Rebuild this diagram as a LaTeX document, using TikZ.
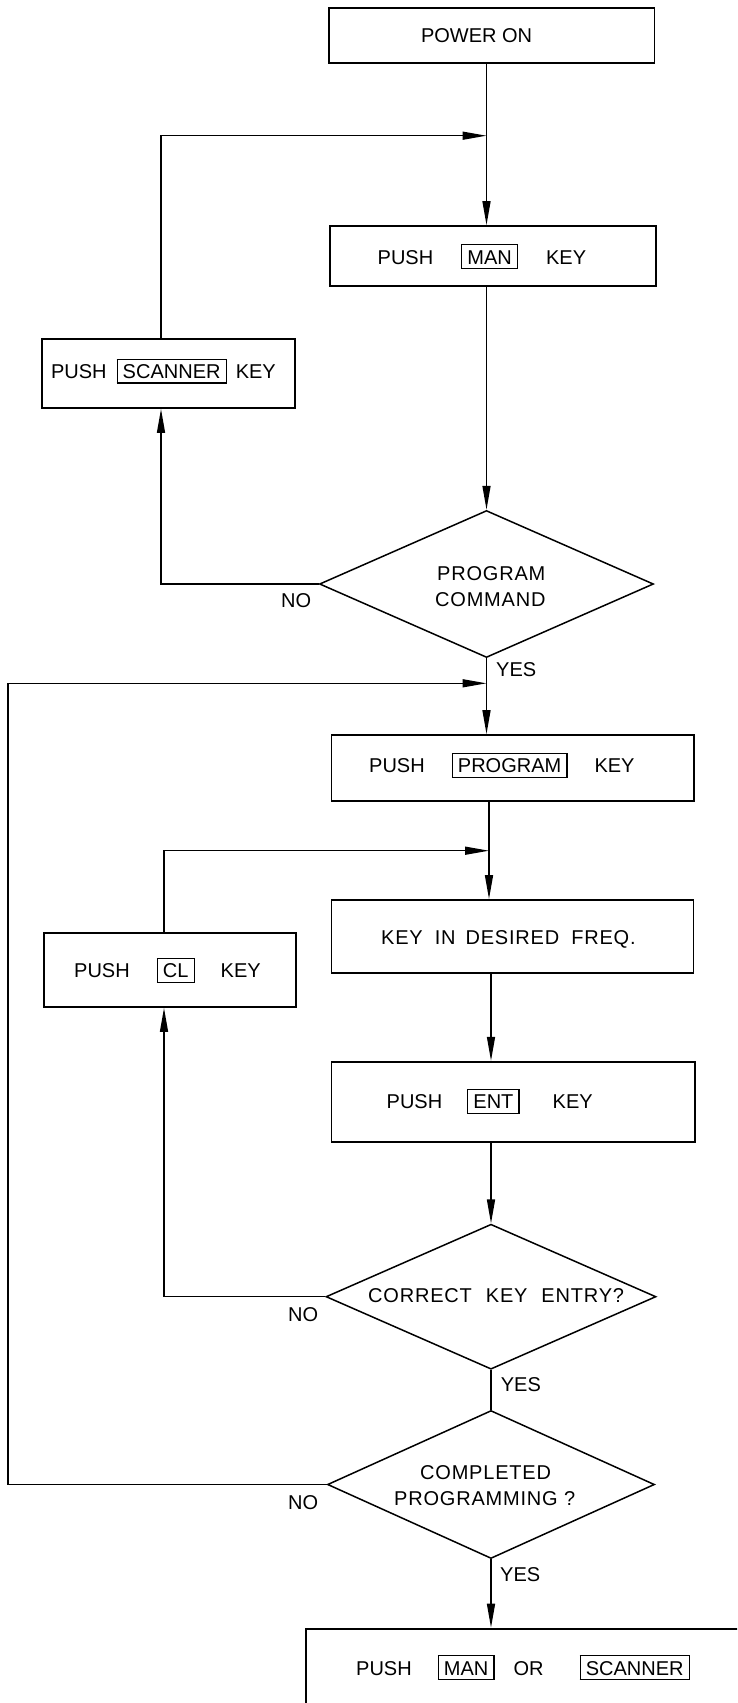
\documentclass[tikz,border=0pt]{standalone}
\usepackage{fontspec}
\setmainfont{Liberation Sans}
\newfontfamily\widefont{Liberation Sans}[LetterSpace=4]
\usetikzlibrary{shapes.geometric,arrows.meta}

% framed key legend inside the step texts
\newcommand{\kbox}[1]{{\setlength{\fboxsep}{0pt}\setlength{\fboxrule}{1.2pt}%
  \fbox{\rule[-3.8pt]{0pt}{22.6pt}\hspace{5pt}#1\hspace{5pt}}}}

\tikzset{
  box/.style={draw, line width=1.8pt, rectangle, inner sep=0pt},
  dia/.style={draw, line width=1.5pt, diamond, inner sep=0pt},
  txt/.style={anchor=base west, inner sep=0pt, font=\fontsize{20}{24}\selectfont},
  arr/.style={line width=1.5pt, -{Triangle[length=24pt,width=8pt]}},
  ln/.style={line width=1.5pt},
}

\begin{document}
\begin{tikzpicture}[x=1pt,y=-1pt]
\path[use as bounding box] (0,0) rectangle (737,1703);
\clip (0,0) rectangle (737,1703);

% guide columns for the connectors
\coordinate (s1) at (486.5,0);
\coordinate (s2) at (489,0);
\coordinate (s3) at (491,0);
\coordinate (xs) at (161,0);
\coordinate (xc) at (164,0);
\coordinate (xl) at (8,0);
\coordinate (m1) at (486.5,135.7);
\coordinate (m2) at (486.5,683.3);
\coordinate (m3) at (489,850.7);

% steps
\node[box, minimum width=325.5, minimum height=54.4] (pwr) at (491.75,35.5) {};
\node[box, minimum width=326, minimum height=60] (man) at (493,256) {};
\node[box, minimum width=252.5, minimum height=69] (scan) at (168.5,373.5) {};
\node[dia, minimum width=334, minimum height=147] (d1) at (486.5,584) {};
\node[box, minimum width=362.5, minimum height=66] (prog) at (512.75,768) {};
\node[box, minimum width=362, minimum height=73] (keyin) at (512.5,936.5) {};
\node[box, minimum width=252.3, minimum height=74.3] (cl) at (169.85,969.85) {};
\node[box, minimum width=363.5, minimum height=80] (ent) at (513.25,1101.7) {};
\node[dia, minimum width=330, minimum height=145] (d2) at (491,1296.7) {};
\node[dia, minimum width=327, minimum height=148] (d3) at (491,1484.5) {};
\node[box, anchor=north west, minimum width=500, minimum height=200] (last) at (304.7,1627.7) {};

% texts
\node[txt] (tpwr) at (420.8,42.7) {POWER ON};
\node[txt] (tman) at (377.5,264) {PUSH\hspace{28pt}\kbox{MAN}\hspace{28pt}KEY};
\node[txt] (tscan) at (50.8,378.5) {PUSH\hspace{10pt}\kbox{SCANNER}\hspace{9pt}KEY};
\node[txt] (td1a) at (437,580.7) {\widefont PROGRAM};
\node[txt] (td1b) at (435,606.7) {\widefont COMMAND};
\node[txt] (tprog) at (369,772.7) {PUSH\hspace{27pt}\kbox{PROGRAM}\hspace{27pt}KEY};
\node[txt] (tkeyin) at (381,944) {\widefont KEY\hspace{12pt}IN\hspace{10pt}DESIRED\hspace{12pt}FREQ.};
\node[txt] (tcl) at (74,977.7) {PUSH\hspace{27pt}\kbox{CL}\hspace{26pt}KEY};
\node[txt] (tent) at (386.5,1108.7) {PUSH\hspace{25pt}\kbox{ENT}\hspace{33pt}KEY};
\node[txt] (td2) at (368,1302.7) {\widefont CORRECT\hspace{14pt}KEY\hspace{14pt}ENTRY?};
\node[txt] (td3a) at (420,1479) {\widefont COMPLETED};
\node[txt] (td3b) at (394,1505.7) {\widefont PROGRAMMING ?};
\node[txt] (tlast) at (356,1675) {PUSH\hspace{26pt}\kbox{MAN}\hspace{19pt}OR\hspace{36pt}\kbox{SCANNER}};

% branch labels
\node[txt] (no1) at (281,607) {NO};
\node[txt] (yes1) at (496,676) {YES};
\node[txt] (no2) at (288,1321.7) {NO};
\node[txt] (yes2) at (500.7,1391.7) {YES};
\node[txt] (no3) at (288,1509) {NO};
\node[txt] (yes3) at (500,1581) {YES};

% main flow
\draw[arr] (pwr.south -| s1) -- (man.north -| s1);
\draw[arr] (man.south -| s1) -- (d1.north);
\draw[arr] (d1.south) -- (prog.north -| d1.south);
\draw[arr] (prog.south -| s2) -- (keyin.north -| s2);
\draw[arr] (keyin.south -| s3) -- (ent.north -| s3);
\draw[arr] (ent.south -| s3) -- (d2.north);
\draw[ln] (d2.south) -- (d3.north);
\draw[arr] (d3.south) -- (last.north -| d3.south);

% return loops
\draw[arr] (scan.north -| xs) |- (m1);
\draw[arr] (d1.west) -| (scan.south -| xs);
\draw[arr] (d3.west) -| (m2 -| xl) -- (m2);
\draw[arr] (cl.north -| xc) |- (m3);
\draw[arr] (d2.west) -| (cl.south -| xc);
\end{tikzpicture}
\end{document}
